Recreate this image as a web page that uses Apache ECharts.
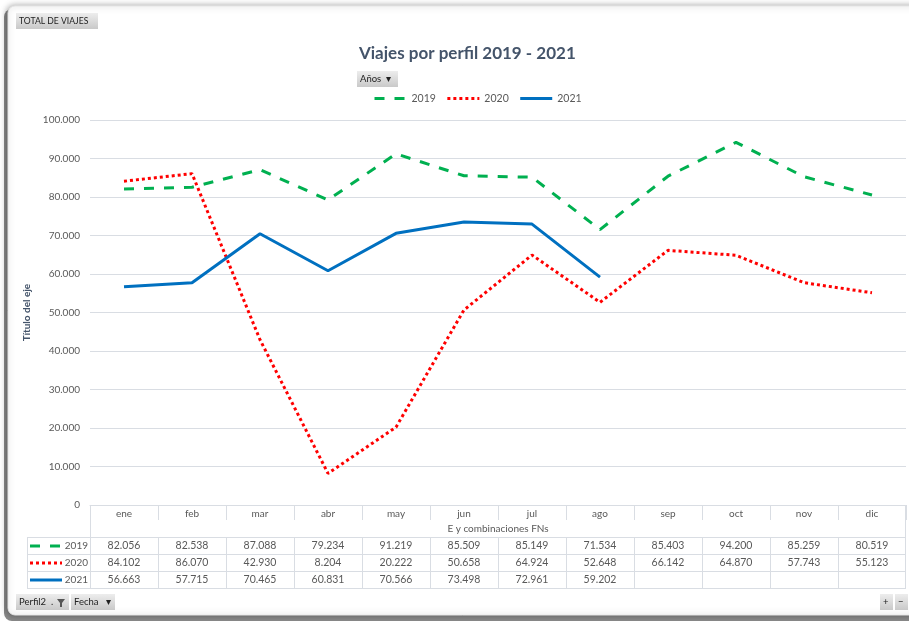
<!DOCTYPE html>
<html>
<head>
<meta charset="utf-8">
<script src="https://cdn.jsdelivr.net/npm/echarts@6/dist/echarts.min.js"></script>
<style>
  html, body { margin: 0; padding: 0; background: #fff; }
  #chart { width: 909px; height: 621px; }
</style>
</head>
<body>
<div id="chart"></div>
<script>
var meses = ['ene', 'feb', 'mar', 'abr', 'may', 'jun', 'jul', 'ago', 'sep', 'oct', 'nov', 'dic'];
var anios = ['2019', '2020', '2021'];
var v2019 = [82056, 82538, 87088, 79234, 91219, 85509, 85149, 71534, 85403, 94200, 85259, 80519];
var v2020 = [84102, 86070, 42930, 8204, 20222, 50658, 64924, 52648, 66142, 64870, 57743, 55123];
var v2021 = [56663, 57715, 70465, 60831, 70566, 73498, 72961, 59202, null, null, null, null];
var colores = ['#00B050', '#FF0000', '#0070C0'];
var trazos = [[10, 10], [3, 3], 'solid'];

var chart = echarts.init(document.getElementById('chart'));
var FONT = 'Lato, "Open Sans", sans-serif';

// geometria de la tabla de datos (bajo el area de trazado)
var gL = 90, gR = 906, gTop = 120, gBot = 505;
var cw = (gR - gL) / meses.length;
var filaY = [537.5, 554.5, 571.5, 588.5];
var lineaGris = '#D9DDE3';

function fmt(v) {
  if (v === null) return '';
  if (v === 0) return '0';
  return (v / 1000).toFixed(3);
}

function boton(x, y, w, h, txt, fs) {
  return {
    type: 'group', x: x, y: y,
    children: [
      { type: 'rect', shape: { x: 0, y: 0, width: w, height: h },
        style: { fill: new echarts.graphic.LinearGradient(0, 0, 0, 1, [
          { offset: 0, color: '#EDEDED' }, { offset: 1, color: '#C9C9C9' }]) } },
      { type: 'text', x: 3, y: h / 2,
        style: { text: txt, fontSize: fs || 9.5, fontFamily: FONT, fill: '#222', verticalAlign: 'middle' } }
    ]
  };
}

var graficos = [];
// marco con sombra
graficos.push({ type: 'rect', z: -10, shape: { x: 4, y: 9, width: 930, height: 612, r: 8 },
  style: { fill: '#8A8A8A' } });
graficos.push({ type: 'rect', z: -9, shape: { x: 8, y: 6, width: 930, height: 609, r: 7 },
  style: { fill: '#fff', stroke: '#E6E6E6', lineWidth: 1, shadowBlur: 6, shadowColor: 'rgba(0,0,0,0.35)', shadowOffsetX: -1 } });

graficos.push(boton(16, 13, 82, 16, 'TOTAL DE VIAJES', 8.6));
graficos.push(boton(357, 71, 41, 16, 'Años  ▾'));
graficos.push(boton(16, 594, 53, 16, 'Perfil2  .'));
graficos.push({ type: 'polygon', shape: { points: [[57, 599], [65, 599], [62, 603], [62, 607], [60, 607], [60, 603]] },
  style: { fill: '#555' } });
graficos.push(boton(71, 594, 44, 16, 'Fecha   ▾'));
graficos.push(boton(880, 594, 13, 16, '+'));
graficos.push(boton(895, 594, 13, 16, '−'));

// lineas de la tabla
graficos.push({ type: 'line', shape: { x1: gL + 0.5, y1: gBot, x2: gL + 0.5, y2: filaY[3] }, style: { stroke: lineaGris } });
graficos.push({ type: 'line', shape: { x1: gR - 0.5, y1: gBot, x2: gR - 0.5, y2: filaY[3] }, style: { stroke: lineaGris } });
graficos.push({ type: 'line', shape: { x1: 27.5, y1: filaY[0], x2: 27.5, y2: filaY[3] }, style: { stroke: lineaGris } });
filaY.forEach(function (y) {
  graficos.push({ type: 'line', shape: { x1: 27, y1: y, x2: gR, y2: y }, style: { stroke: lineaGris } });
});
for (var k = 1; k < meses.length; k++) {
  var xk = Math.round(gL + cw * k) + 0.5;
  graficos.push({ type: 'line', shape: { x1: xk, y1: filaY[0], x2: xk, y2: filaY[3] }, style: { stroke: lineaGris } });
}
graficos.push({ type: 'text', x: (gL + gR) / 2, y: 529,
  style: { text: 'E y combinaciones FNs', fontSize: 10, fontFamily: FONT, fill: '#595959', align: 'center', verticalAlign: 'middle' } });

[v2019, v2020, v2021].forEach(function (serie, r) {
  var yc = (filaY[r] + filaY[r + 1]) / 2;
  graficos.push({ type: 'line', shape: { x1: 30, y1: yc, x2: 62, y2: yc },
    style: { stroke: colores[r], lineWidth: 3, lineDash: trazos[r] === 'solid' ? null : trazos[r] } });
  graficos.push({ type: 'text', x: 88, y: yc,
    style: { text: anios[r], fontSize: 10, fontFamily: FONT, fill: '#595959', align: 'right', verticalAlign: 'middle' } });
  serie.forEach(function (v, i) {
    graficos.push({ type: 'text', x: gL + cw * (i + 0.5), y: yc,
      style: { text: fmt(v), fontSize: 10.5, fontFamily: FONT, fill: '#595959', align: 'center', verticalAlign: 'middle' } });
  });
});

var option = {
  backgroundColor: '#fff',
  animation: false,
  title: {
    text: 'Viajes por perfil 2019 - 2021',
    left: 354, top: 40,
    textStyle: { fontSize: 17, fontWeight: 'bold', color: '#44546A', fontFamily: FONT }
  },
  legend: {
    data: anios,
    top: 88, left: 368,
    itemWidth: 32, itemHeight: 10, itemGap: 10,
    itemStyle: { opacity: 0 },
    lineStyle: { width: 3 },
    textStyle: { fontSize: 10.5, color: '#595959', fontFamily: FONT }
  },
  grid: { left: gL, right: 909 - gR, top: gTop, bottom: 621 - gBot },
  xAxis: {
    type: 'category', data: meses, boundaryGap: true,
    axisLine: { lineStyle: { color: lineaGris } },
    axisTick: { show: true, length: 15, interval: 0, lineStyle: { color: lineaGris } },
    axisLabel: { margin: 4, fontSize: 10, color: '#595959', fontFamily: FONT, interval: 0 }
  },
  yAxis: {
    type: 'value', min: 0, max: 100000, interval: 10000,
    name: 'Título del eje', nameLocation: 'middle', nameGap: 55,
    nameTextStyle: { fontSize: 10, fontWeight: 'bold', color: '#44546A', fontFamily: FONT },
    axisLine: { show: false }, axisTick: { show: false },
    axisLabel: { formatter: fmt, fontSize: 10, color: '#595959', fontFamily: FONT, margin: 10 },
    splitLine: { lineStyle: { color: lineaGris } }
  },
  series: [v2019, v2020, v2021].map(function (serie, r) {
    return {
      name: anios[r], type: 'line', data: serie, symbol: 'none', smooth: false,
      itemStyle: { color: colores[r] },
      lineStyle: { color: colores[r], width: 3, type: trazos[r] }
    };
  }),
  graphic: graficos
};
chart.setOption(option);
</script>
</body>
</html>
